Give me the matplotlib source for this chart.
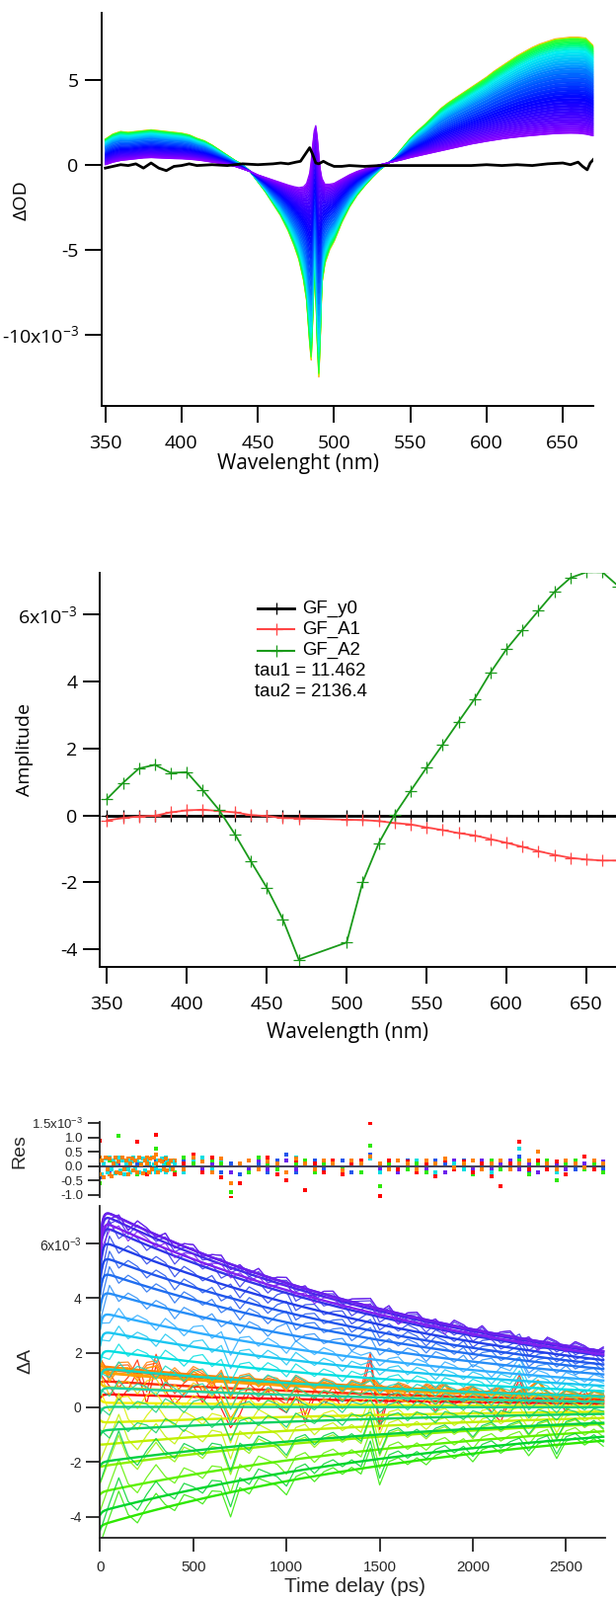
import numpy as np
import matplotlib
matplotlib.use("Agg")
import matplotlib.pyplot as plt
from matplotlib.colors import LinearSegmentedColormap
from matplotlib.lines import Line2D

plt.rcParams['axes.unicode_minus'] = False
plt.rcParams['mathtext.fontset'] = 'custom'
plt.rcParams['mathtext.rm'] = 'Open Sans'

# ------------------------------------------------------------------ data
# top panel: transient spectra (units of 1e-3 OD)
wl_top = [350, 355, 360, 365, 370, 375, 380, 385, 390, 395, 400, 405, 410, 415, 420,
          425, 430, 435, 440, 445, 450, 455, 460, 465, 470, 474, 477, 480, 482, 484,
          485, 486, 487, 488, 489, 490, 491, 492, 494, 497, 500, 505, 510, 515, 520,
          525, 530, 535, 540, 545, 550, 555, 560, 565, 570, 575, 580, 585, 590, 595,
          600, 605, 610, 615, 620, 625, 630, 635, 640, 645, 650, 655, 660, 665, 670]
spec_early = [1.5, 1.8, 1.95, 1.9, 1.95, 2.0, 2.05, 2.0, 1.95, 1.9, 1.85, 1.75, 1.55, 1.4, 1.15,
              0.85, 0.55, 0.25, 0.0, -0.4, -1.0, -1.6, -2.3, -3.0, -3.9, -4.8, -5.6, -6.8, -8.0, -10.5,
              -11.5, -9.0, -6.5, -7.5, -10.5, -12.5, -10.0, -7.0, -5.8, -5.0, -4.5, -3.4, -2.5, -1.8, -1.25,
              -0.75, -0.3, 0.05, 0.45, 1.0, 1.55, 2.0, 2.4, 2.85, 3.3, 3.65, 3.95, 4.25, 4.55, 4.85,
              5.15, 5.5, 5.8, 6.1, 6.4, 6.65, 6.9, 7.1, 7.25, 7.4, 7.45, 7.5, 7.5, 7.45, 7.0]
spec_late = [0.0, 0.15, 0.25, 0.3, 0.35, 0.4, 0.42, 0.4, 0.38, 0.36, 0.35, 0.32, 0.28, 0.22, 0.15,
             0.08, 0.0, -0.1, -0.25, -0.4, -0.6, -0.75, -0.9, -1.05, -1.2, -1.3, -1.35, -1.3, -1.1, -0.5,
             0.2, 1.2, 2.0, 2.3, 1.6, 0.6, -0.3, -0.8, -1.15, -1.15, -1.1, -0.85, -0.6, -0.4, -0.25,
             -0.12, 0.0, 0.1, 0.2, 0.3, 0.42, 0.52, 0.62, 0.72, 0.82, 0.92, 1.02, 1.12, 1.22, 1.3,
             1.38, 1.45, 1.52, 1.58, 1.63, 1.68, 1.72, 1.76, 1.8, 1.83, 1.85, 1.86, 1.85, 1.8, 1.7]
delays_top = [30, 40, 50, 60, 80, 100, 120, 150, 180, 210, 250, 300, 350, 400, 450, 500, 550, 600,
              700, 800, 900, 1000, 1100, 1200, 1300, 1400, 1500, 1600, 1700, 1800, 1900, 2000,
              2100, 2200, 2300, 2400, 2500, 2600, 2700]
wl_black = [350, 355, 360, 365, 370, 375, 380, 385, 390, 395, 400, 405, 410, 420, 430, 440, 450,
            460, 465, 470, 475, 478, 481, 484, 486, 488, 490, 493, 496, 500, 505, 510, 520, 530,
            540, 550, 560, 570, 580, 590, 600, 610, 620, 630, 640, 650, 655, 660, 663, 666, 668, 670]
spec_black = [-0.2, -0.1, 0.0, -0.05, 0.05, -0.2, 0.1, -0.2, -0.35, -0.1, -0.05, 0.05, -0.05, 0.0,
              -0.05, 0.05, 0.0, 0.05, 0.1, 0.05, 0.15, 0.2, 0.6, 1.0, 0.6, 0.1, 0.05, 0.2, 0.05,
              -0.1, -0.1, -0.05, -0.1, -0.05, -0.05, -0.05, -0.05, -0.05, -0.05, -0.05, 0.0, -0.05,
              0.0, -0.05, 0.05, 0.1, 0.0, 0.15, -0.1, -0.3, 0.1, 0.3]

# middle panel: global-fit amplitudes (units of 1e-3)
wl_amp = [350, 360, 370, 380, 390, 400, 410, 420, 430, 440, 450, 460, 470,
          500, 510, 520, 530, 540, 550, 560, 570, 580, 590, 600, 610, 620, 630, 640, 650, 660, 670]
amp_y0 = [0.0] * 31
amp_A1 = [-0.15, -0.08, -0.03, -0.01, 0.09, 0.15, 0.17, 0.13, 0.09, 0.01, -0.02, -0.08, -0.09,
          -0.13, -0.14, -0.17, -0.23, -0.27, -0.36, -0.44, -0.53, -0.60, -0.71, -0.82, -0.94,
          -1.07, -1.18, -1.27, -1.32, -1.35, -1.35]
amp_A2 = [0.49, 0.97, 1.40, 1.51, 1.27, 1.29, 0.75, 0.17, -0.56, -1.37, -2.16, -3.10, -4.31,
          -3.80, -2.00, -0.84, 0.02, 0.73, 1.43, 2.11, 2.80, 3.48, 4.27, 4.97, 5.55, 6.12, 6.68,
          7.10, 7.27, 7.27, 6.85]
tau1 = 11.462
tau2 = 2136.4
legend_labels = ['GF_y0', 'GF_A1', 'GF_A2']

# bottom panel: fit residuals (units of 1e-3), every 50 ps
res_350 = [0.9, 0.3, -0.2, 0.2, 0.85, -0.3, 1.1, 0.2, -0.3, 0.1,
           0.4, -0.2, 0.3, -0.4, -1.1, -0.6, 0.2, -0.1, 0.3, -0.3,
           -0.5, 0.2, -0.85, 0.1, -0.2, 0.2, -0.3, 0.1, 0.2, 1.5,
           -1.05, 0.2, -0.1, 0.15, -0.2, 0.1, -0.35, 0.2, -0.1, 0.15,
           -0.2, 0.1, -0.35, -0.7, 0.1, 0.85, -0.1, 0.2, -0.1, 0.15,
           -0.3, 0.1, 0.35, -0.1, 0.1]
res_380 = [0.3, -0.3, 0.2, 0.25, -0.2, 0.3, 0.4, -0.15, 0.2, -0.1,
           0.3, 0.15, -0.2, 0.25, -0.6, 0.1, 0.2, -0.1, 0.15, 0.1,
           -0.2, 0.25, 0.1, -0.1, 0.2, 0.1, -0.15, 0.2, 0.1, 0.35,
           0.1, -0.1, 0.2, 0.1, -0.1, 0.2, 0.1, 0.25, -0.05, 0.1,
           0.2, -0.1, 0.1, 0.2, -0.1, 0.1, 0.2, 0.5, 0.1, -0.1,
           0.2, 0.1, -0.05, 0.2, 0.1]
res_470 = [-0.6, 0.2, 1.05, 0.1, -0.3, 0.2, 0.6, 0.1, -0.2, 0.3,
           0.1, -0.2, 0.2, 0.1, -0.9, 0.1, -0.2, 0.3, 0.1, -0.1,
           -0.5, 0.1, 0.2, -0.2, 0.1, 0.2, -0.1, 0.1, -0.2, 0.7,
           -0.7, 0.1, 0.2, -0.1, 0.1, -0.2, 0.1, 0.2, -0.1, 0.1,
           -0.3, 0.1, 0.2, -0.1, 0.1, 0.2, -0.3, 0.1, 0.2, -0.5,
           0.1, 0.2, -0.1, 0.1, -0.2]
res_560 = [0.2, -0.3, 0.3, -0.1, 0.2, 0.1, -0.2, 0.3, 0.1, -0.2,
           0.2, 0.3, -0.1, 0.2, -0.6, 0.1, 0.2, -0.1, 0.25, 0.1,
           -0.2, 0.3, 0.1, -0.1, 0.2, 0.1, -0.2, 0.2, 0.1, 0.25,
           -0.2, 0.1, 0.2, -0.1, 0.2, 0.1, -0.2, 0.2, 0.1, -0.1,
           0.2, 0.1, -0.2, 0.2, 0.1, 0.6, -0.1, 0.2, 0.1, -0.2,
           0.2, 0.1, -0.1, 0.2, 0.1]
res_610 = [-0.4, 0.3, -0.2, 0.2, 0.1, -0.2, 0.2, 0.1, -0.3, 0.2,
           0.1, -0.1, 0.2, -0.2, 0.1, -0.3, 0.2, 0.1, -0.2, 0.2,
           0.4, -0.2, 0.1, 0.2, -0.1, 0.1, 0.2, -0.2, 0.1, 0.4,
           -0.2, 0.1, -0.1, 0.2, 0.1, -0.2, 0.2, 0.1, -0.1, 0.2,
           -0.2, 0.1, 0.2, -0.1, 0.1, 0.35, -0.2, 0.1, 0.2, -0.1,
           0.2, -0.1, 0.1, 0.2, -0.1]
res_660 = [0.2, -0.2, 0.1, -0.3, 0.2, 0.1, -0.1, 0.2, -0.2, 0.1,
           0.2, -0.1, 0.1, 0.2, -0.2, 0.1, -0.1, 0.2, -0.1, 0.1,
           0.2, -0.1, 0.1, -0.2, 0.1, 0.2, -0.1, 0.1, 0.2, 0.3,
           -0.1, 0.2, -0.2, 0.1, 0.2, -0.1, 0.1, -0.2, 0.2, 0.1,
           -0.1, 0.2, -0.1, 0.1, 0.2, -0.1, 0.1, -0.2, 0.2, 0.1,
           -0.1, 0.2, 0.1, -0.1, 0.15]
res_early_380 = [-0.3, 0.2, -0.4, 0.3, -0.1, 0.25, -0.35, 0.1, 0.3, -0.2, 0.15, -0.25, 0.3, -0.1,
                 0.2, -0.3, 0.1, 0.25, -0.15, 0.2, -0.2, 0.3, 0.05, -0.25, 0.2, 0.1, -0.2, 0.25,
                 -0.1, 0.3, 0.1, -0.2, 0.2, 0.15, -0.1, 0.25, -0.15, 0.1, 0.2, -0.1]
res_early_560 = [0.2, -0.3, 0.1, 0.25, -0.2, 0.3, -0.1, 0.2, -0.25, 0.1, 0.3, -0.15, 0.2, -0.3,
                 0.1, 0.2, -0.2, 0.15, 0.3, -0.1, 0.2, -0.2, 0.1, 0.25, -0.15, 0.2, 0.1, -0.2,
                 0.3, 0.05, -0.1, 0.2, -0.15, 0.25, 0.1, -0.2, 0.2, 0.1, -0.1, 0.15]
res_by_wl = {350: res_350, 380: res_380, 470: res_470, 560: res_560, 610: res_610, 660: res_660}

# tick values / labels
SUP = r'x10$^{\mathregular{-3}}$'
top_xticks = [350, 400, 450, 500, 550, 600, 650]
top_yticks = [5, 0, -5, -10]
top_yticklabels = ['5', '0', '-5', '-10' + SUP]
mid_yticks = [6, 4, 2, 0, -2, -4]
mid_yticklabels = ['6' + SUP, '4', '2', '0', '-2', '-4']
res_yticks = [1.5, 1.0, 0.5, 0.0, -0.5, -1.0]
res_yticklabels = ['1.5' + SUP, '1.0', '0.5', '0.0', '-0.5', '-1.0']
kin_yticks = [6, 4, 2, 0, -2, -4]
kin_yticklabels = ['6' + SUP, '4', '2', '0', '-2', '-4']
kin_xticks = [0, 500, 1000, 1500, 2000, 2500]

# ------------------------------------------------------------------ layout helpers
W, H, DPI = 624, 1620, 100
fig = plt.figure(figsize=(W / DPI, H / DPI), dpi=DPI)
fig.patch.set_facecolor('white')


def fx(px):
    return px / W


def fy(py):
    return 1 - py / H


def axes_px(l, t, r, b):
    return fig.add_axes([fx(l), fy(b), (r - l) / W, (b - t) / H])


def style(ax, lw=1.4, color='black'):
    for s in ('top', 'right'):
        ax.spines[s].set_visible(False)
    for s in ('left', 'bottom'):
        ax.spines[s].set_linewidth(lw)
        ax.spines[s].set_color(color)
    ax.patch.set_alpha(0)


OS = 'Open Sans'
LS = 'Liberation Sans'

# ------------------------------------------------------------------ top panel
ax1 = axes_px(103.3, 13.3, 601, 411)
style(ax1)
e = np.array(spec_early)
l = np.array(spec_late)
d = np.array(delays_top, dtype=float)
wgt = (np.exp(-d / tau2) - np.exp(-d[-1] / tau2)) / (np.exp(-d[0] / tau2) - np.exp(-d[-1] / tau2))
specs = l[None, :] + (e - l)[None, :] * wgt[:, None]
top_cmap = LinearSegmentedColormap.from_list('tc', [
    (0.0, '#ff9a00'), (0.025, '#d8ff00'), (0.06, '#40ff20'), (0.17, '#00ff60'),
    (0.26, '#00f0f0'), (0.4, '#00a0ff'), (0.5, '#0050ff'), (0.62, '#0000ff'),
    (0.78, '#4000ff'), (1.0, '#8c00ff')])
cols = top_cmap(np.linspace(0, 1, len(d)))
for i in range(len(d)):
    if i < len(d) - 1:
        ax1.fill_between(wl_top, specs[i], specs[i + 1], color=cols[i], lw=0)
    ax1.plot(wl_top, specs[i], color=cols[i], lw=0.9)
ax1.plot(wl_black, spec_black, color='black', lw=2.0)
ax1.set_xlim(347.8, 670)
ax1.set_ylim(-14.2, 8.92)
ax1.set_xticks(top_xticks)
ax1.set_xticklabels([str(v) for v in top_xticks], fontfamily=OS, fontsize=14)
ax1.set_yticks(top_yticks)
ax1.set_yticklabels(top_yticklabels, fontfamily=OS, fontsize=14)
ax1.tick_params(axis='both', direction='out', length=12, width=1.4)
ax1.tick_params(axis='x', pad=9)
ax1.tick_params(axis='y', pad=5)
fig.text(fx(22), fy(203), 'ΔOD', rotation=90, ha='center', va='center',
         fontfamily=OS, fontsize=14)
fig.text(fx(302), fy(469), 'Wavelenght (nm)', ha='center', va='center',
         fontfamily=OS, fontsize=15)

# ------------------------------------------------------------------ middle panel
ax2 = axes_px(100.7, 580, 624, 979.3)
style(ax2)
mk = dict(marker='+', ms=9, mew=0.9)
ax2.plot(wl_amp, amp_y0, color='black', lw=2.0, **mk)
ax2.plot(wl_amp, amp_A1, color='#ff4545', lw=1.3, **mk)
ax2.plot(wl_amp, amp_A2, color='#1a9a1a', lw=1.3, **mk)
ax2.set_xlim(345.3, 668.5)
ax2.set_ylim(-4.54, 7.25)
ax2.set_xticks(top_xticks)
ax2.set_xticklabels([str(v) for v in top_xticks], fontfamily=OS, fontsize=14)
ax2.set_yticks(mid_yticks)
ax2.set_yticklabels(mid_yticklabels, fontfamily=OS, fontsize=14)
ax2.tick_params(axis='both', direction='out', length=12, width=1.4)
ax2.tick_params(axis='x', pad=9)
ax2.tick_params(axis='y', pad=4)
fig.text(fx(25), fy(759), 'Amplitude', rotation=90, ha='center', va='center',
         fontfamily=OS, fontsize=14)
fig.text(fx(352), fy(1045), 'Wavelength (nm)', ha='center', va='center',
         fontfamily=OS, fontsize=15)

# legend (drawn by hand to match placement)
leg_cols = ['black', '#ff4545', '#1a9a1a']
for i, (lab, c) in enumerate(zip(legend_labels, leg_cols)):
    yy = fy(616 + 21.3 * i)
    fig.add_artist(Line2D([fx(261), fx(279.5), fx(298)], [yy, yy, yy], color=c,
                          lw=2.0 if i == 0 else 1.5, marker='+', ms=9, mew=0.9,
                          markevery=[1]))
    fig.text(fx(306.5), yy, lab, ha='left', va='center', fontfamily=LS, fontsize=13.4)
fig.text(fx(257.5), fy(680), 'tau1 = %.3f' % tau1, ha='left', va='center',
         fontfamily=LS, fontsize=13.4)
fig.text(fx(257.5), fy(700.7), 'tau2 = %.1f' % tau2, ha='left', va='center',
         fontfamily=LS, fontsize=13.4)

# ------------------------------------------------------------------ bottom: kinetics
wl_min, wl_max = 350.0, 670.0
kin_cmap = LinearSegmentedColormap.from_list('kc', [
    (0.0, '#ff0000'), ((365 - 350) / 320, '#ff4000'), ((380 - 350) / 320, '#ff8000'),
    ((400 - 350) / 320, '#ffa000'), ((420 - 350) / 320, '#f0f000'),
    ((440 - 350) / 320, '#c0f000'), ((460 - 350) / 320, '#60f000'),
    ((480 - 350) / 320, '#00e000'), ((510 - 350) / 320, '#00d040'),
    ((540 - 350) / 320, '#20d0a0'), ((560 - 350) / 320, '#00e0e0'),
    ((580 - 350) / 320, '#30b0ff'), ((600 - 350) / 320, '#2070f0'),
    ((620 - 350) / 320, '#2040e8'), ((650 - 350) / 320, '#5020e8'),
    (1.0, '#8020f0')])


def wl_color(w):
    return kin_cmap((w - wl_min) / (wl_max - wl_min))


t_fit = np.linspace(0, 2700, 541)
t_res = np.arange(0, 2701, 50)
t_res_early = np.arange(0, 400, 10)
res_keys = list(res_by_wl.keys())

axk = axes_px(100.7, 1220.7, 613, 1557.3)
style(axk, lw=1.3, color='#222222')
for w, y0, a1, a2 in zip(wl_amp, amp_y0, amp_A1, amp_A2):
    c = wl_color(w)
    fit = y0 + a1 * np.exp(-t_fit / tau1) + a2 * np.exp(-t_fit / tau2)
    key = min(res_keys, key=lambda k: abs(k - w))
    data = (y0 + a1 * np.exp(-t_res / tau1) + a2 * np.exp(-t_res / tau2)
            + np.array(res_by_wl[key]))
    axk.plot(t_res, data, color=c, lw=0.9, alpha=0.85)
    axk.plot(t_fit, fit, color=c, lw=1.7)
axk.set_xlim(-4, 2710)
axk.set_ylim(-4.78, 7.38)
axk.set_xticks(kin_xticks)
axk.set_xticklabels([str(v) for v in kin_xticks], fontfamily=LS, fontsize=11, color='#262626')
axk.set_yticks(kin_yticks)
axk.set_yticklabels(kin_yticklabels, fontfamily=LS, fontsize=10, color='#262626')
axk.tick_params(axis='both', direction='out', length=10, width=1.3, color='#222222')
axk.tick_params(axis='x', pad=6)
axk.tick_params(axis='y', pad=3)
fig.text(fx(26), fy(1378), 'ΔA', rotation=90, ha='center', va='center',
         fontfamily=LS, fontsize=14, color='#262626')
fig.text(fx(359), fy(1606), 'Time delay (ps)', ha='center', va='center',
         fontfamily=LS, fontsize=15, color='#262626')

# ------------------------------------------------------------------ bottom: residuals
axr = axes_px(100.7, 1136, 613, 1211.7)
style(axr, lw=1.3, color='#222222')
axr.spines['bottom'].set_visible(False)
axr.axhline(0, color='#202040', lw=1.2, zorder=1)
for key in [610, 660, 560, 470, 350, 380]:
    axr.plot(t_res, res_by_wl[key], ls='none', marker='s', ms=2.8, mew=0,
             color=wl_color(key), zorder=2)
axr.plot(t_res_early, res_early_560, ls='none', marker='s', ms=2.8, mew=0,
         color=wl_color(560), zorder=3)
axr.plot(t_res_early, res_early_380, ls='none', marker='s', ms=3.0, mew=0,
         color=wl_color(380), zorder=3)
axr.set_xlim(-4, 2710)
axr.set_ylim(-1.07, 1.545)
axr.set_xticks([])
axr.set_yticks(res_yticks)
axr.set_yticklabels(res_yticklabels, fontfamily=LS, fontsize=9.5, color='#262626')
axr.tick_params(axis='y', direction='out', length=9, width=1.3, pad=3, color='#222222')
fig.text(fx(19.5), fy(1166), 'Res', rotation=90, ha='center', va='center',
         fontfamily=LS, fontsize=14, color='#262626')

fig.savefig('out.png', dpi=DPI, facecolor='white')
